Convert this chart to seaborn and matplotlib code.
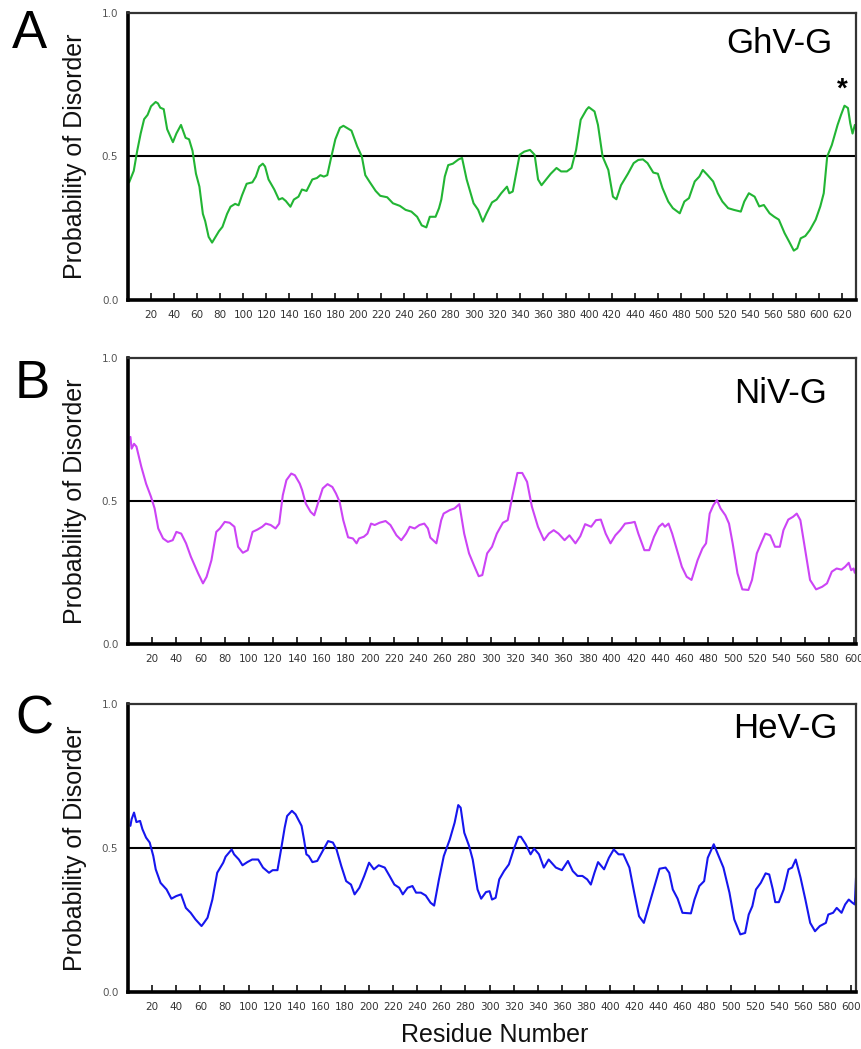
import pandas as pd
import matplotlib.pyplot as plt
import seaborn as sns

# GhV-G disorder profile (residue, probability)
ghv_res = [1, 5, 8, 11, 14, 17, 20, 24, 26, 28, 31, 34, 39, 42, 46, 50, 53, 56, 59, 62,
           65, 67, 70, 73, 76, 79, 82, 86, 89, 93, 96, 99, 103, 108, 111, 114, 117, 119, 122, 127,
           131, 134, 137, 141, 144, 148, 151, 155, 160, 164, 167, 170, 173, 176, 180, 184, 187, 192, 194, 199,
           203, 206, 210, 215, 219, 225, 230, 236, 241, 246, 251, 255, 259, 262, 267, 270, 272, 275, 278, 282,
           287, 290, 294, 300, 304, 308, 311, 316, 320, 324, 329, 331, 334, 340, 344, 349, 353, 356, 359, 363,
           367, 372, 376, 381, 385, 389, 393, 398, 400, 405, 408, 412, 417, 421, 424, 428, 434, 439, 443, 447,
           451, 456, 460, 464, 469, 473, 479, 483, 487, 492, 496, 499, 503, 508, 512, 516, 521, 526, 532, 535,
           539, 544, 548, 552, 557, 561, 565, 570, 574, 578, 581, 584, 588, 592, 597, 601, 604, 607, 611, 616,
           619, 622, 625, 627, 629, 631]
ghv_val = [0.41, 0.45, 0.52, 0.58, 0.63, 0.645, 0.675, 0.69, 0.685, 0.67, 0.665, 0.595, 0.55, 0.58, 0.61, 0.565, 0.56, 0.52, 0.44, 0.395,
           0.30, 0.275, 0.22, 0.20, 0.22, 0.24, 0.255, 0.30, 0.325, 0.335, 0.33, 0.365, 0.405, 0.41, 0.43, 0.465, 0.475, 0.465, 0.42, 0.385,
           0.35, 0.355, 0.345, 0.325, 0.35, 0.36, 0.385, 0.38, 0.42, 0.425, 0.435, 0.43, 0.435, 0.49, 0.56, 0.60, 0.607, 0.595, 0.59, 0.535,
           0.50, 0.435, 0.41, 0.38, 0.363, 0.358, 0.337, 0.328, 0.314, 0.308, 0.29, 0.26, 0.253, 0.29, 0.29, 0.32, 0.35, 0.43, 0.47, 0.475,
           0.49, 0.495, 0.42, 0.337, 0.314, 0.273, 0.30, 0.34, 0.35, 0.372, 0.395, 0.372, 0.378, 0.506, 0.517, 0.523, 0.506, 0.42, 0.40, 0.42,
           0.44, 0.46, 0.448, 0.448, 0.46, 0.523, 0.628, 0.663, 0.672, 0.657, 0.61, 0.50, 0.453, 0.36, 0.351, 0.40, 0.44, 0.477, 0.488, 0.49,
           0.477, 0.444, 0.44, 0.39, 0.343, 0.32, 0.302, 0.343, 0.355, 0.413, 0.43, 0.453, 0.436, 0.413, 0.372, 0.343, 0.32, 0.314, 0.308, 0.343,
           0.372, 0.36, 0.326, 0.331, 0.302, 0.29, 0.28, 0.233, 0.203, 0.172, 0.18, 0.215, 0.223, 0.244, 0.28, 0.326, 0.372, 0.50, 0.54, 0.61,
           0.645, 0.677, 0.669, 0.616, 0.58, 0.61]

# NiV-G
niv_res = [2, 3, 5, 7, 11, 15, 19, 22, 25, 29, 33, 37, 40, 44, 48, 52, 58, 62, 65, 69,
           73, 76, 80, 84, 88, 91, 95, 99, 103, 107, 111, 114, 118, 122, 125, 128, 131, 135, 138, 142,
           144, 147, 151, 154, 157, 161, 165, 169, 172, 175, 178, 182, 186, 189, 191, 195, 198, 201, 204, 208,
           213, 217, 222, 226, 230, 233, 237, 241, 245, 248, 250, 255, 259, 261, 266, 270, 274, 278, 282, 286,
           290, 293, 297, 301, 305, 310, 314, 318, 322, 326, 330, 334, 339, 344, 348, 352, 356, 361, 365, 370,
           374, 378, 383, 387, 391, 395, 399, 403, 407, 411, 416, 419, 422, 427, 431, 435, 439, 442, 444, 447,
           450, 454, 458, 462, 466, 471, 475, 478, 481, 484, 487, 490, 494, 497, 500, 504, 508, 513, 516, 520,
           524, 527, 531, 535, 539, 542, 546, 550, 553, 556, 560, 564, 569, 574, 578, 582, 586, 590, 593, 596,
           598, 600, 601]
niv_val = [0.724, 0.683, 0.70, 0.69, 0.62, 0.56, 0.515, 0.474, 0.404, 0.369, 0.357, 0.363, 0.392, 0.386, 0.352, 0.305, 0.247, 0.212, 0.235, 0.293,
           0.392, 0.404, 0.427, 0.424, 0.41, 0.34, 0.319, 0.328, 0.392, 0.40, 0.41, 0.421, 0.416, 0.404, 0.421, 0.52, 0.573, 0.596, 0.59, 0.561,
           0.538, 0.491, 0.462, 0.45, 0.491, 0.544, 0.559, 0.549, 0.526, 0.497, 0.433, 0.373, 0.369, 0.352, 0.369, 0.375, 0.386, 0.421, 0.416, 0.424,
           0.43, 0.416, 0.38, 0.363, 0.386, 0.41, 0.404, 0.416, 0.421, 0.404, 0.372, 0.352, 0.433, 0.456, 0.468, 0.474, 0.489, 0.386, 0.317, 0.276,
           0.237, 0.241, 0.317, 0.34, 0.386, 0.424, 0.433, 0.52, 0.598, 0.598, 0.567, 0.48, 0.41, 0.363, 0.386, 0.398, 0.386, 0.363, 0.38, 0.352,
           0.377, 0.419, 0.41, 0.433, 0.435, 0.386, 0.352, 0.38, 0.398, 0.421, 0.424, 0.427, 0.386, 0.328, 0.328, 0.375, 0.41, 0.421, 0.41, 0.421,
           0.386, 0.328, 0.27, 0.235, 0.224, 0.293, 0.334, 0.352, 0.456, 0.485, 0.503, 0.474, 0.45, 0.421, 0.352, 0.247, 0.191, 0.189, 0.224, 0.317,
           0.357, 0.386, 0.38, 0.34, 0.34, 0.398, 0.435, 0.445, 0.456, 0.433, 0.328, 0.224, 0.191, 0.20, 0.212, 0.253, 0.264, 0.26, 0.27, 0.284,
           0.258, 0.264, 0.249]

# HeV-G
hev_res = [2, 3, 5, 7, 10, 12, 15, 18, 21, 23, 27, 32, 36, 40, 44, 48, 52, 56, 61, 63,
           66, 70, 74, 79, 81, 86, 88, 92, 95, 99, 103, 108, 112, 117, 120, 124, 127, 130, 132, 136,
           139, 144, 146, 148, 150, 153, 157, 161, 166, 170, 173, 177, 181, 185, 188, 192, 196, 200, 204, 208,
           213, 217, 221, 225, 228, 232, 236, 239, 243, 247, 251, 254, 258, 262, 267, 271, 274, 276, 279, 283,
           286, 290, 293, 297, 300, 302, 305, 308, 312, 316, 320, 324, 326, 330, 334, 337, 341, 345, 349, 355,
           360, 365, 369, 373, 377, 381, 384, 387, 390, 395, 399, 403, 407, 411, 416, 420, 424, 428, 432, 436,
           441, 446, 449, 452, 456, 460, 467, 470, 474, 478, 481, 486, 490, 494, 499, 503, 508, 512, 515, 518,
           521, 525, 529, 532, 535, 537, 540, 544, 548, 551, 554, 558, 562, 566, 570, 574, 579, 581, 585, 588,
           592, 595, 598, 601, 603, 604]
hev_val = [0.577, 0.60, 0.623, 0.59, 0.594, 0.565, 0.536, 0.519, 0.472, 0.426, 0.379, 0.356, 0.324, 0.333, 0.339, 0.292, 0.275, 0.252, 0.229, 0.24,
           0.258, 0.321, 0.414, 0.449, 0.47, 0.495, 0.478, 0.46, 0.44, 0.451, 0.46, 0.46, 0.432, 0.414, 0.423, 0.423, 0.495, 0.571, 0.611, 0.629,
           0.617, 0.577, 0.53, 0.478, 0.472, 0.451, 0.455, 0.486, 0.524, 0.519, 0.495, 0.437, 0.385, 0.373, 0.339, 0.362, 0.403, 0.449, 0.426, 0.44,
           0.432, 0.403, 0.373, 0.362, 0.339, 0.362, 0.368, 0.345, 0.345, 0.335, 0.31, 0.30, 0.391, 0.472, 0.53, 0.588, 0.649, 0.64, 0.553, 0.507,
           0.46, 0.356, 0.324, 0.347, 0.35, 0.321, 0.327, 0.391, 0.42, 0.443, 0.495, 0.539, 0.539, 0.513, 0.478, 0.498, 0.478, 0.432, 0.46, 0.432,
           0.423, 0.455, 0.42, 0.403, 0.403, 0.391, 0.373, 0.414, 0.451, 0.426, 0.466, 0.495, 0.478, 0.478, 0.432, 0.345, 0.263, 0.24, 0.298, 0.356,
           0.428, 0.432, 0.414, 0.356, 0.324, 0.275, 0.273, 0.321, 0.368, 0.385, 0.466, 0.513, 0.472, 0.432, 0.345, 0.252, 0.20, 0.205, 0.269, 0.298,
           0.356, 0.379, 0.412, 0.408, 0.356, 0.312, 0.312, 0.356, 0.426, 0.432, 0.46, 0.397, 0.321, 0.24, 0.211, 0.229, 0.24, 0.269, 0.275, 0.292,
           0.275, 0.304, 0.321, 0.31, 0.304, 0.397]

names = ['GhV-G', 'NiV-G', 'HeV-G']
letters = ['A', 'B', 'C']
lengths = [632, 602, 604]
colors = ['#22b534', '#cc44f5', '#1616ee']
x_ticks = [list(range(20, 621, 20)), list(range(20, 601, 20)), list(range(20, 601, 20))]
y_ticks = [0.0, 0.5, 1.0]
series = [(ghv_res, ghv_val), (niv_res, niv_val), (hev_res, hev_val)]

sns.set_theme(style='white')
plt.rcParams['font.family'] = ['Liberation Sans', 'DejaVu Sans']
plt.rcParams['text.color'] = 'black'

fig = plt.figure(figsize=(8.62, 10.49), dpi=100)
W, H = 862, 1049

# axes boxes in pixels: (left, top, right, bottom)
boxes = [(128, 13, 856, 300), (128, 358, 856, 644), (128, 704, 856, 992)]
letter_pos = [(12, 48), (15, 398), (15, 733)]
name_pos = [(833, 53), (827, 403), (838, 738)]

for i in range(3):
    l, t, r, b = boxes[i]
    ax = fig.add_axes([l / W, 1 - b / H, (r - l) / W, (b - t) / H])
    res, val = series[i]
    df = pd.DataFrame({'Residue': res, 'Probability': val})
    sns.lineplot(data=df, x='Residue', y='Probability', ax=ax, color=colors[i],
                 linewidth=1.5, estimator=None, sort=True)
    ax.axhline(0.5, color='black', linewidth=1.5, zorder=1)
    ax.set_xlim(0, lengths[i])
    ax.set_ylim(0, 1)
    ax.set_xticks(x_ticks[i])
    ax.set_yticks(y_ticks)
    ax.set_yticklabels(['0.0', '0.5', '1.0'])
    ax.tick_params(axis='x', direction='in', length=5, width=1.3, color='#222',
                   labelsize=7.5, labelcolor='#333', pad=7, bottom=True)
    ax.tick_params(axis='y', length=0, labelsize=7.5, labelcolor='#555', pad=7)
    for lab in ax.get_xticklabels() + ax.get_yticklabels():
        lab.set_family('DejaVu Sans')
    ax.spines['left'].set_linewidth(2.6)
    ax.spines['bottom'].set_linewidth(2.6)
    ax.spines['left'].set_color('black')
    ax.spines['bottom'].set_color('black')
    ax.spines['top'].set_linewidth(1.6)
    ax.spines['right'].set_linewidth(1.6)
    ax.spines['top'].set_color('#333')
    ax.spines['right'].set_color('#333')
    ax.set_xlabel('')
    ax.set_ylabel('Probability of Disorder', fontsize=18, color='#111')
    ax.yaxis.set_label_coords(-(l - 87) / (r - l), 0.5)

    lx, ly = letter_pos[i]
    fig.text(lx / W, 1 - ly / H, letters[i], fontsize=38, va='baseline', ha='left', color='black')
    nx, ny = name_pos[i]
    fig.text(nx / W, 1 - ny / H, names[i], fontsize=25, va='baseline', ha='right', color='black')

fig.text(842 / W, 1 - 90 / H, '*', fontsize=20, fontweight='bold', ha='center', va='center', color='black')
fig.text(495 / W, 1 - 1042 / H, 'Residue Number', fontsize=18, ha='center', va='baseline', color='#111')

plt.savefig('out.png', dpi=100)
